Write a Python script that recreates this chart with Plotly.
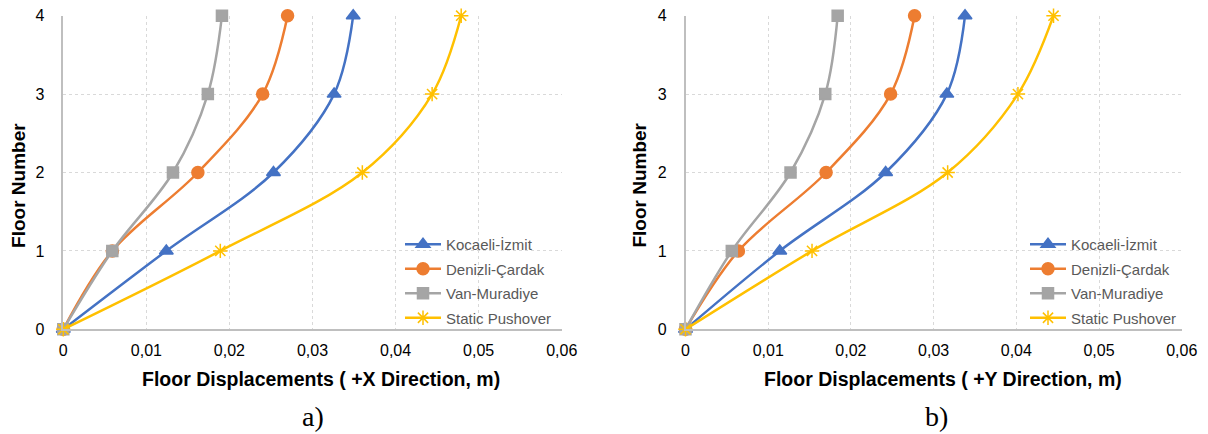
import plotly.graph_objects as go

floors = [0, 1, 2, 3, 4]
series_names = ["Kocaeli-İzmit", "Denizli-Çardak", "Van-Muradiye", "Static Pushover"]
colors = ["#4472C4", "#ED7D31", "#A5A5A5", "#FFC000"]
symbols = ["triangle-up", "circle", "square", "asterisk-open"]
marker_sizes = [12, 12, 11, 12]

# X direction displacements (m)
kocaeli_x = [0, 0.0124, 0.0253, 0.0326, 0.0349]
denizli_x = [0, 0.0059, 0.0162, 0.0240, 0.0270]
van_x = [0, 0.0059, 0.0132, 0.0174, 0.0191]
static_x = [0, 0.0189, 0.0360, 0.0444, 0.0479]

# Y direction displacements (m)
kocaeli_y = [0, 0.0114, 0.0242, 0.0316, 0.0338]
denizli_y = [0, 0.0064, 0.0170, 0.0248, 0.0277]
van_y = [0, 0.0056, 0.0127, 0.0169, 0.0184]
static_y = [0, 0.0153, 0.0317, 0.0402, 0.0445]

x_ticks = [0, 0.01, 0.02, 0.03, 0.04, 0.05, 0.06]
x_tick_labels = ["0", "0,01", "0,02", "0,03", "0,04", "0,05", "0,06"]
y_ticks = [0, 1, 2, 3, 4]

W, H = 1208, 434
def px(x):
    return x / W
def py(y):
    return 1 - y / H

fig = go.Figure()

panels = [
    ([kocaeli_x, denizli_x, van_x, static_x], "x", "y", "legend", "a"),
    ([kocaeli_y, denizli_y, van_y, static_y], "x2", "y2", "legend2", "b"),
]
for data, xa, ya, lg, tag in panels:
    for i, name in enumerate(series_names):
        fig.add_trace(go.Scatter(
            x=data[i], y=floors, name=name, mode="lines+markers",
            line=dict(color=colors[i], width=2.5, shape="spline", smoothing=1.0),
            marker=dict(symbol=symbols[i], size=marker_sizes[i], color=colors[i],
                        line=dict(color=colors[i], width=1.5)),
            xaxis=xa, yaxis=ya, legend=lg, legendgroup=f"{tag}{i}", cliponaxis=False,
        ))

tickfont = dict(family="Liberation Sans, Arial, sans-serif", size=16, color="#000000")
xcommon = dict(range=[0, 0.06], tickvals=x_ticks, ticktext=x_tick_labels,
               showgrid=True, gridcolor="#D9D9D9", griddash="dot", gridwidth=1,
               showline=True, linecolor="#BFBFBF", linewidth=1.5,
               zeroline=False, ticks="", tickfont=tickfont, fixedrange=True,
               automargin=False, ticklabelstandoff=6)
ycommon = dict(range=[0, 4], tickvals=y_ticks,
               showgrid=True, gridcolor="#D9D9D9", griddash="dot", gridwidth=1,
               showline=True, linecolor="#BFBFBF", linewidth=1.5,
               zeroline=False, ticks="", tickfont=tickfont, fixedrange=True,
               automargin=False, ticklabelstandoff=14)

legfont = dict(family="Liberation Sans, Arial, sans-serif", size=15, color="#595959")
y_dom = [py(329.3), py(15.7)]
fig.update_layout(
    width=W, height=H,
    margin=dict(l=0, r=0, t=0, b=0, autoexpand=False),
    paper_bgcolor="white", plot_bgcolor="white",
    xaxis=dict(domain=[px(63.3), px(561.7)], anchor="y", **xcommon),
    yaxis=dict(domain=y_dom, anchor="x", **ycommon),
    xaxis2=dict(domain=[px(685.5), px(1181.7)], anchor="y2", **xcommon),
    yaxis2=dict(domain=y_dom, anchor="x2", **ycommon),
    legend=dict(x=px(400), y=py(228), xanchor="left", yanchor="top",
                bgcolor="rgba(0,0,0,0)", borderwidth=0, tracegroupgap=2,
                font=legfont, itemwidth=36),
    legend2=dict(x=px(1025), y=py(228), xanchor="left", yanchor="top",
                 bgcolor="rgba(0,0,0,0)", borderwidth=0, tracegroupgap=2,
                 font=legfont, itemwidth=36),
    showlegend=True,
)

# white legend backgrounds that hide the gridlines (drawn between grid and traces)
for x0, x1 in [(402, 560.5), (1027, 1180.5)]:
    fig.add_shape(type="rect", xref="paper", yref="paper",
                  x0=px(x0), x1=px(x1), y0=py(328.4), y1=py(231),
                  fillcolor="white", line=dict(width=0), layer="between")

title_font = dict(family="Liberation Sans, Arial, sans-serif", size=19.5, color="#000000")
annos = [
    dict(text="<b>Floor Displacements ( +X Direction, m)</b>", x=px(321), y=py(379.3)),
    dict(text="<b>Floor Displacements ( +Y Direction, m)</b>", x=px(943), y=py(379.3)),
]
for a in annos:
    fig.add_annotation(xref="paper", yref="paper", xanchor="center", yanchor="middle",
                       showarrow=False, font=title_font, **a)
ytitle_font = dict(family="Liberation Sans, Arial, sans-serif", size=19, color="#000000")
for xx in [18.3, 640]:
    fig.add_annotation(text="<b>Floor Number</b>", xref="paper", yref="paper",
                       x=px(xx), y=py(185.6), xanchor="center", yanchor="middle",
                       textangle=-90, showarrow=False, font=ytitle_font)
serif = dict(family="Liberation Serif, Times New Roman, serif", size=28, color="#000000")
fig.add_annotation(text="a)", xref="paper", yref="paper", x=px(313), y=py(416),
                   xanchor="center", yanchor="middle", showarrow=False, font=serif)
fig.add_annotation(text="b)", xref="paper", yref="paper", x=px(936), y=py(416),
                   xanchor="center", yanchor="middle", showarrow=False, font=serif)

fig.write_html("out.html", config={"displayModeBar": False},
               post_script="document.body.style.margin='0';document.body.style.padding='0';")
